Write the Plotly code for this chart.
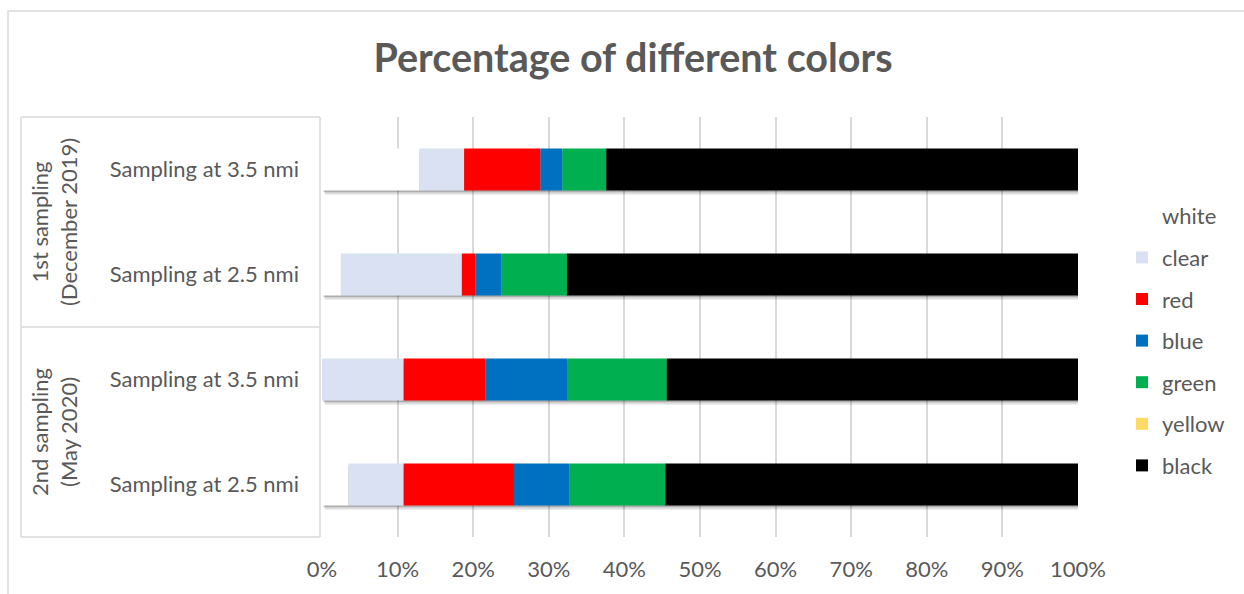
import numpy as np
import plotly.graph_objects as go

# Rows from top to bottom
row_keys = ["s1_35", "s1_25", "s2_35", "s2_25"]
row_labels = ["Sampling at 3.5 nmi", "Sampling at 2.5 nmi",
              "Sampling at 3.5 nmi", "Sampling at 2.5 nmi"]
group_labels = ["1st sampling<br>(December 2019)", "2nd sampling<br>(May 2020)"]

# Share of each colour (%)
white = [12.9, 2.5, 0.0, 3.5]
clear = [5.9, 16.0, 10.8, 7.3]
red = [10.1, 1.8, 10.8, 14.6]
blue = [2.9, 3.4, 10.9, 7.3]
green = [5.8, 8.7, 13.1, 12.7]
yellow = [0.0, 0.0, 0.0, 0.0]
black = [62.4, 67.6, 54.4, 54.6]

x_ticks = list(range(0, 101, 10))
x_tick_labels = [f"{v}%" for v in x_ticks]

series_names = ["white", "clear", "red", "blue", "green", "yellow", "black"]
series_values = [white, clear, red, blue, green, yellow, black]
series_colors = ["#FFFFFF", "#D9E1F2", "#FF0000", "#0070C0", "#00B050", "#FFD966", "#000000"]

TEXT = "#595959"
GRID = "#D9D9D9"
FONT = "Lato, 'Open Sans', sans-serif"
FS = 22

W, H = 1244, 594
L, R, T, B = 322, 166, 117, 57
PW, PH = W - L - R, H - T - B
BAR_W = 0.4
CAT_PX = PH / len(row_keys)


def px_x(p):
    return (p - L) / PW


def px_y(p):
    return (H - B - p) / PH


fig = go.Figure()

# Soft drop shadow under each full bar
totals = np.sum(np.array(series_values), axis=0)
for dy, dx, alpha in [(1.5, 0.15, 0.16), (3.0, 0.3, 0.12), (4.5, 0.4, 0.07)]:
    fig.add_trace(go.Bar(
        y=row_keys, x=totals, base=[dx] * len(row_keys), orientation="h",
        width=BAR_W, offset=-BAR_W / 2 - dy / CAT_PX,
        marker=dict(color=f"rgba(0,0,0,{alpha})", line=dict(width=0)),
        showlegend=False, hoverinfo="skip",
    ))

# Stacked colour segments
cum = np.zeros(len(row_keys))
for name, vals, col in zip(series_names, series_values, series_colors):
    vals = np.array(vals, dtype=float)
    fig.add_trace(go.Bar(
        y=row_keys, x=vals, base=cum.copy(), orientation="h", name=name,
        width=BAR_W, marker=dict(color=col, line=dict(width=0)),
        legendgroup=name,
    ))
    cum = cum + vals

shapes = []
line = dict(color=GRID, width=1.5)
# outer chart border
shapes.append(dict(type="rect", xref="paper", yref="paper",
                   x0=px_x(8), x1=px_x(1260), y0=px_y(610), y1=px_y(11),
                   line=dict(color=GRID, width=1.5), layer="below"))
# category-group frame on the left
for yp in [117, 327, 537]:
    shapes.append(dict(type="line", xref="paper", yref="paper",
                       x0=px_x(21), x1=px_x(320), y0=px_y(yp), y1=px_y(yp), line=line))
for xp in [21, 320]:
    shapes.append(dict(type="line", xref="paper", yref="paper",
                       x0=px_x(xp), x1=px_x(xp), y0=px_y(117), y1=px_y(537), line=line))

annotations = []
for i, g in enumerate(group_labels):
    annotations.append(dict(
        text=g, xref="paper", yref="paper", x=px_x(54), y=0.75 - 0.5 * i,
        xanchor="center", yanchor="middle",
        showarrow=False, textangle=-90, align="center",
        font=dict(family=FONT, size=FS, color=TEXT),
    ))

fig.update_layout(
    width=W, height=H,
    margin=dict(l=L, r=R, t=T, b=B),
    paper_bgcolor="white", plot_bgcolor="white",
    barmode="overlay",
    font=dict(family=FONT, color=TEXT, size=FS),
    title=dict(text="<b>Percentage of different colors</b>",
               x=633 / W, xanchor="center", xref="container",
               y=1 - 58 / H, yanchor="middle", yref="container",
               font=dict(family=FONT, size=39.5, color=TEXT)),
    xaxis=dict(range=[0, 100], tickvals=x_ticks, ticktext=x_tick_labels,
               showgrid=True, gridcolor=GRID, gridwidth=1.5, zeroline=False,
               showline=False, ticks="", ticklabelstandoff=17,
               tickfont=dict(family=FONT, size=FS, color=TEXT)),
    yaxis=dict(categoryorder="array", categoryarray=row_keys[::-1],
               tickvals=row_keys, ticktext=row_labels,
               range=[-0.5, len(row_keys) - 0.5],
               showgrid=False, zeroline=False, showline=False, ticks="",
               ticklabelstandoff=22,
               tickfont=dict(family=FONT, size=FS, color=TEXT)),
    legend=dict(x=px_x(1122), y=px_y(195), xanchor="left", yanchor="top",
                traceorder="grouped", tracegroupgap=10,
                font=dict(family=FONT, size=FS, color=TEXT),
                bgcolor="rgba(0,0,0,0)"),
    shapes=shapes,
    annotations=annotations,
)

fig.write_html("out.html")
